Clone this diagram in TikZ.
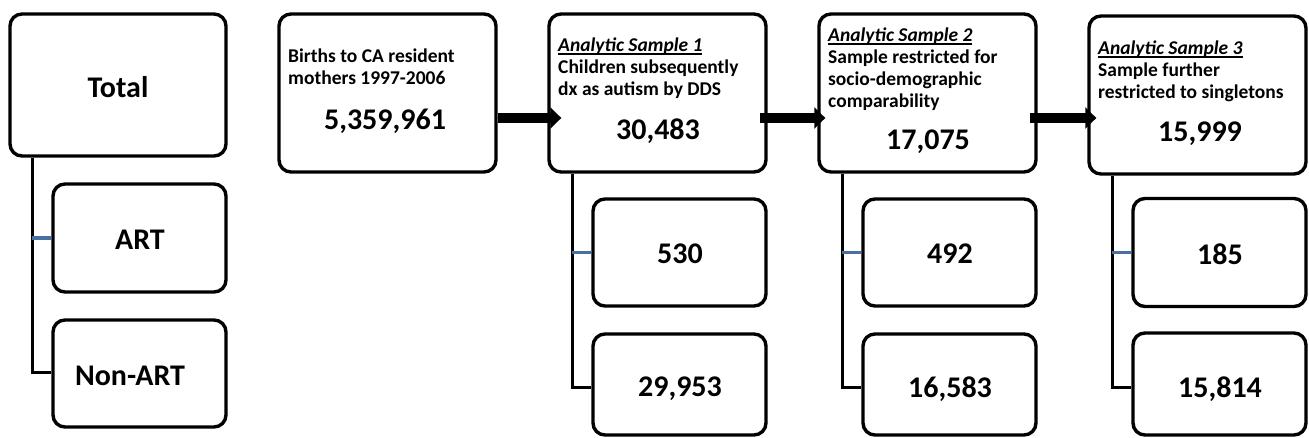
\documentclass[tikz,border=0pt]{standalone}
\usepackage{fontspec}
\setmainfont{Carlito}
\usetikzlibrary{arrows.meta}
\definecolor{connblue}{RGB}{72,112,165}
\newcommand\ulin[1]{\setbox0\hbox{#1}\rlap{\rule[-2.6pt]{\wd0}{1.3pt}}\box0}
\newcommand\lines[1]{\vtop{#1}}
\begin{document}
\begin{tikzpicture}[x=1pt,y=-1pt,
  box/.style={draw=black,line width=3.4pt,rounded corners=12pt,fill=white,inner sep=0pt},
  big/.style={font=\fontsize{30}{36}\selectfont\bfseries,inner sep=0pt},
  small/.style={font=\fontsize{19.5}{22}\selectfont\bfseries,inner sep=0pt,anchor=base west},
  trunk/.style={draw=black,line width=3pt},
  blueconn/.style={draw=connblue,line width=3.2pt},
  bigarrow/.style={draw=black,line width=10pt,-{Triangle[length=11pt,width=21pt]}}]
\useasboundingbox (0,0) rectangle (1309,438);

% ---- legend column ----
\node[box,minimum width=216pt,minimum height=142pt] (total) at (118,85) {};
\node[box,minimum width=173pt,minimum height=108pt] (art) at (139.5,238) {};
\node[box,minimum width=173pt,minimum height=107pt] (nonart) at (139.5,373.5) {};
\node[big] (totaltxt) at (118,87) {Total};
\node[big] (arttxt) at (140,239.5) {ART};
\node[big] (nonarttxt) at (130,376) {Non-ART};
\coordinate (t0) at (32,0);
\draw[trunk] (total.south -| t0) -- (t0 |- 0,372) -- (nonart.west |- 0,372);
\draw[blueconn] (t0 |- art.west) -- (art.west);

% ---- births ----
\node[box,minimum width=217pt,minimum height=158pt] (births) at (387.5,93) {};
\node[small] (birthstxt) at (288,63) {\lines{\hbox{Births to CA resident}\hbox{mothers 1997-2006}}};
\node[big,anchor=base] (birthsn) at (385,130) {5,359,961};

% ---- sample 1 ----
\node[box,minimum width=217pt,minimum height=158pt] (s1) at (657.5,93) {};
\node[small] (s1txt) at (558,52) {\lines{\hbox{\ulin{\itshape Analytic Sample 1}}\hbox{Children subsequently}\hbox{dx as autism by DDS}}};
\node[big,anchor=base] (s1n) at (658,140) {30,483};
\node[box,minimum width=173pt,minimum height=107pt] (s1a) at (679.5,252.5) {};
\node[box,minimum width=173pt,minimum height=101pt] (s1b) at (679.5,384.5) {};
\node[big] (s1atxt) at (680,254) {530};
\node[big] (s1btxt) at (680,389) {29,953};
\coordinate (t1) at (572,0);
\draw[trunk] (s1.south -| t1) -- (t1 |- 0,387) -- (s1b.west |- 0,387);
\draw[blueconn] (t1 |- s1a.west) -- (s1a.west);

% ---- sample 2 ----
\node[box,minimum width=217pt,minimum height=158pt] (s2) at (927.5,93) {};
\node[small] (s2txt) at (828,42) {\lines{\hbox{\ulin{\itshape Analytic Sample 2}}\hbox{Sample restricted for}\hbox{socio-demographic}\hbox{comparability}}};
\node[big,anchor=base] (s2n) at (928,150) {17,075};
\node[box,minimum width=173pt,minimum height=107pt] (s2a) at (949.5,252.5) {};
\node[box,minimum width=173pt,minimum height=101pt] (s2b) at (949.5,384.5) {};
\node[big] (s2atxt) at (950,254) {492};
\node[big] (s2btxt) at (950,389) {16,583};
\coordinate (t2) at (842,0);
\draw[trunk] (s2.south -| t2) -- (t2 |- 0,387) -- (s2b.west |- 0,387);
\draw[blueconn] (t2 |- s2a.west) -- (s2a.west);

% ---- sample 3 ----
\node[box,minimum width=217pt,minimum height=158pt] (s3) at (1197.5,95) {};
\node[small] (s3txt) at (1098,55) {\lines{\hbox{\ulin{\itshape Analytic Sample 3}}\hbox{Sample further}\hbox{restricted to singletons}}};
\node[big,anchor=base] (s3n) at (1200,141.5) {15,999};
\node[box,minimum width=173pt,minimum height=108pt] (s3a) at (1219.5,252.5) {};
\node[box,minimum width=173pt,minimum height=102pt] (s3b) at (1219.5,384) {};
\node[big] (s3atxt) at (1220,254) {185};
\node[big] (s3btxt) at (1220,389) {15,814};
\coordinate (t3) at (1112,0);
\draw[trunk] (s3.south -| t3) -- (t3 |- 0,387) -- (s3b.west |- 0,387);
\draw[blueconn] (t3 |- s3a.west) -- (s3a.west);

% ---- arrows ----
\draw[bigarrow] (births.east |- 0,118) -- ([xshift=14pt]s1.west |- 0,118);
\draw[bigarrow] ([xshift=-8pt]s1.east |- 0,118) -- ([xshift=8pt]s2.west |- 0,118);
\draw[bigarrow] ([xshift=-8pt]s2.east |- 0,118) -- ([xshift=9pt]s3.west |- 0,118);
\end{tikzpicture}
\end{document}
